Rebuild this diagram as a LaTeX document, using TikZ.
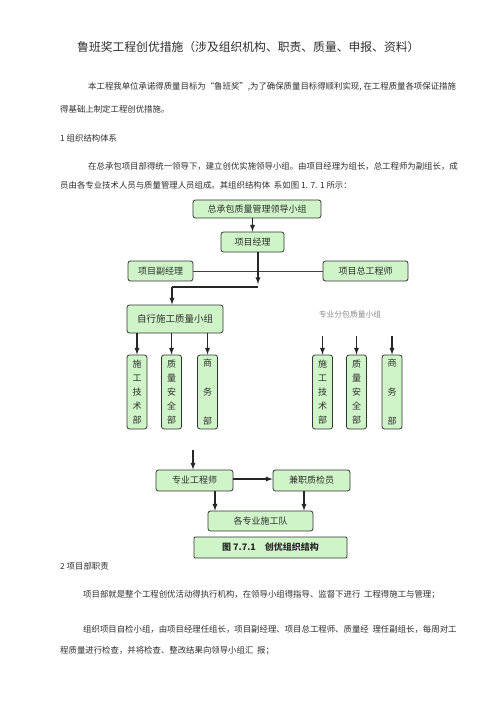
\documentclass[tikz,border=0pt]{standalone}
\usepackage{fontspec}
\setmainfont{Noto Sans CJK SC}
\usetikzlibrary{arrows,positioning,calc}
\definecolor{boxgreen}{RGB}{207,244,200}
\definecolor{txtgray}{RGB}{45,45,45}

\begin{document}
\begin{tikzpicture}[
    x=1pt, y=-1pt,
    box/.style={draw=black!80, line width=0.8pt, rounded corners=2.5pt, fill=boxgreen, inner sep=0pt, text=txtgray, font=\fontsize{9}{11}\selectfont},
    vbox/.style={box, minimum width=20pt, minimum height=74pt, align=center},
    para/.style={anchor=west, inner sep=0pt, text=txtgray, font=\fontsize{8.4}{10}\selectfont},
    line/.style={draw=black!85, line width=1.3pt, -latex}
]
\useasboundingbox (0,0) rectangle (503,711);

% text above the chart
\node[para, font=\fontsize{11.8}{13}\selectfont] (title) at (77,47) {鲁班奖工程创优措施（涉及组织机构、职责、质量、申报、资料）};
\node[para] (p1a) at (88,87) {本工程我单位承诺得质量目标为“鲁班奖”,为了确保质量目标得顺利实现, 在工程质量各项保证措施};
\node[para] (p1b) at (60,109) {得基础上制定工程创优措施。};
\node[para] (sec1) at (60,138) {1 组织结构体系};
\node[para] (p2a) at (88,166) {在总承包项目部得统一领导下，建立创优实施领导小组。由项目经理为组长，总工程师为副组长，成};
\node[para] (p2b) at (60,185) {员由各专业技术人员与质量管理人员组成。其组织结构体\ \ 系如图 1. 7. 1 所示：};

% chart
\node[box, minimum width=128pt, minimum height=18pt] (lead) at (257,209) {总承包质量管理领导小组};
\node[box, minimum width=63pt, minimum height=20pt] (pm) at (252.5,242) {项目经理};
\node[box, minimum width=65pt, minimum height=20pt] (dpm) at (160.5,271) {项目副经理};
\node[box, minimum width=85pt, minimum height=20pt] (ce) at (365.5,271) {项目总工程师};
\node[box, minimum width=96pt, minimum height=28pt, font=\fontsize{9.5}{11}\selectfont] (self) at (175,319) {自行施工质量小组};
\node[anchor=center, inner sep=0pt, text=black!45, font=\fontsize{7.8}{9}\selectfont] (sub) at (350,315) {专业分包质量小组};

\node[vbox, font=\fontsize{9}{14}\selectfont] (s1) at (137,392) {施\\工\\技\\术\\部};
\node[vbox, font=\fontsize{9}{14}\selectfont] (s2) at (171.5,392) {质\\量\\安\\全\\部};
\node[vbox, font=\fontsize{9}{29}\selectfont] (s3) at (207.5,392) {商\\务\\部};
\node[vbox, font=\fontsize{9}{14}\selectfont] (r1) at (322.5,392) {施\\工\\技\\术\\部};
\node[vbox, font=\fontsize{9}{14}\selectfont] (r2) at (356.5,392) {质\\量\\安\\全\\部};
\node[vbox, font=\fontsize{9}{29}\selectfont] (r3) at (392,392) {商\\务\\部};

\node[box, minimum width=77pt, minimum height=21pt] (eng) at (194.5,480.5) {专业工程师};
\node[box, minimum width=77pt, minimum height=21pt] (insp) at (311.5,480.5) {兼职质检员};
\node[box, minimum width=105pt, minimum height=20pt] (team) at (260.5,521) {各专业施工队};
\node[box, minimum width=153pt, minimum height=21pt, rounded corners=1pt, font=\fontsize{9}{11}\selectfont\bfseries] (cap) at (270.5,547.5) {图 7.7.1\quad 创优组织结构};

\coordinate (j1) at (258,284);
\coordinate (j2) at (258,287);
\coordinate (j3) at (172,287);
\coordinate (t1) at (r1.north |- 0,336);
\coordinate (t2) at (r2.north |- 0,336);
\coordinate (t3) at (r3.north |- 0,336);
\coordinate (t0) at (193,450);

\draw[line] (pm.north |- lead.south) -- (pm.north);
\draw[draw=black!75, line width=1pt] (dpm.east) -- (ce.west);
\draw[line] (pm.south -| j1) -- (j1);
\draw[line, -] (j2) -- (j3);
\draw[line] (j3) -- (j3 |- self.north);
\foreach \n in {s1,s2,s3}
    \draw[line] (\n.north |- self.south) -- (\n.north);
\draw[line] (t1) -- (r1.north);
\draw[line] (t2) -- (r2.north);
\draw[line] (t3) -- (r3.north);
\draw[line] (t0) -- (t0 |- eng.north);
\draw[line] (eng.east |- 0,479) -- (insp.west |- 0,479);
\draw[line] ([xshift=20.5pt]eng.south) -- ([xshift=20.5pt]eng.south |- team.north);
\draw[line] ([xshift=-7.5pt]insp.south) -- ([xshift=-7.5pt]insp.south |- team.north);

% text below the chart
\node[para] (sec2) at (60,566) {2 项目部职责};
\node[para] (p3) at (83,595) {项目部就是整个工程创优活动得执行机构，在领导小组得指导、监督下进行\ \ 工程得施工与管理；};
\node[para] (p4a) at (83,629) {组织项目自检小组，由项目经理任组长，项目副经理、项目总工程师、质量经\ \ 理任副组长，每周对工};
\node[para] (p4b) at (60,651) {程质量进行检查，并将检查、整改结果向领导小组汇\ \ 报；};

\end{tikzpicture}
\end{document}
